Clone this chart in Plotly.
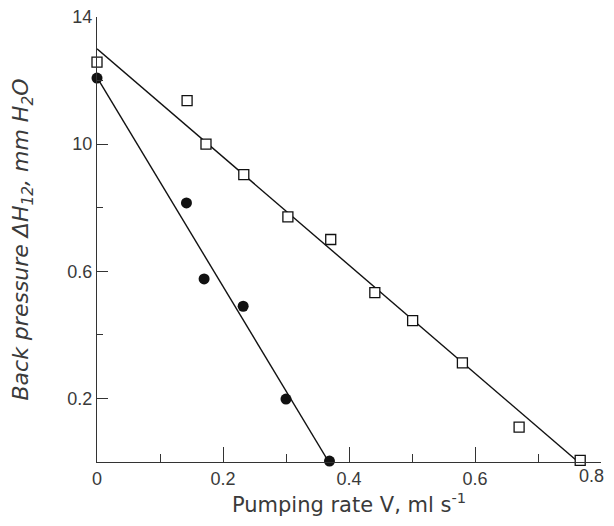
import plotly.graph_objects as go

# Open squares (series 1)
sq_x = [0.0, 0.143, 0.173, 0.233, 0.303, 0.371, 0.441, 0.501, 0.580, 0.670, 0.767]
sq_y = [1.258, 1.137, 1.000, 0.904, 0.771, 0.700, 0.533, 0.445, 0.312, 0.110, 0.005]
# Filled circles (series 2)
ci_x = [0.0, 0.142, 0.170, 0.232, 0.300, 0.369]
ci_y = [1.208, 0.815, 0.576, 0.490, 0.198, 0.003]
# Fitted lines (endpoints)
sq_fit_x = [0.0, 0.764]
sq_fit_y = [1.300, 0.0]
ci_fit_x = [0.0, 0.368]
ci_fit_y = [1.210, 0.0]

x_ticks = [0, 0.2, 0.4, 0.6, 0.8]
x_ticktext = ["0", "0.2", "0.4", "0.6", "0.8"]
y_ticks = [0.2, 0.6, 1.0, 1.4]
y_ticktext = ["0.2", "0.6", "10", "14"]

fig = go.Figure()
fig.add_trace(go.Scatter(x=sq_fit_x, y=sq_fit_y, mode="lines",
                         line=dict(color="#111", width=1.4), showlegend=False))
fig.add_trace(go.Scatter(x=ci_fit_x, y=ci_fit_y, mode="lines",
                         line=dict(color="#111", width=1.4), showlegend=False))
fig.add_trace(go.Scatter(x=sq_x, y=sq_y, mode="markers",
                         marker=dict(symbol="square", size=10, color="white",
                                     line=dict(color="#111", width=1.3)),
                         showlegend=False, cliponaxis=False))
fig.add_trace(go.Scatter(x=ci_x, y=ci_y, mode="markers",
                         marker=dict(symbol="circle", size=11, color="#111",
                                     line=dict(width=0)),
                         showlegend=False, cliponaxis=False))

tick_font = dict(family="Liberation Sans, Arial, sans-serif", size=18, color="#3a3a3a")

# last x label is drawn as an annotation, nudged left so it is not clipped
shown_x_text = x_ticktext[:-1] + [""]

# page body has an 8px default margin; keep the figure inside the window
fig.update_layout(
    width=598, height=509,
    margin=dict(l=89, r=5, t=9, b=55),
    paper_bgcolor="white", plot_bgcolor="white",
    xaxis=dict(
        range=[0, 0.8], showgrid=False, zeroline=False, automargin=False,
        showline=True, linecolor="#333", linewidth=1.3,
        ticks="inside", ticklen=15, tickwidth=1.3, tickcolor="#333",
        tickvals=x_ticks, ticktext=shown_x_text, tickfont=tick_font,
        ticklabeloverflow="allow",
        minor=dict(tickvals=[0.1, 0.3, 0.5, 0.7], ticks="inside", ticklen=8,
                   tickwidth=1.3, tickcolor="#333"),
        title=dict(text="Pumping rate V, ml s<sup>-1</sup>", standoff=6,
                   font=dict(family="DejaVu Sans, sans-serif", size=21, color="#3a3a3a")),
    ),
    yaxis=dict(
        range=[0, 1.4], showgrid=False, zeroline=False, automargin=False,
        showline=True, linecolor="#333", linewidth=1.3,
        ticks="inside", ticklen=11, tickwidth=1.3, tickcolor="#333",
        tickvals=y_ticks, ticktext=y_ticktext, tickfont=tick_font,
        ticklabeloverflow="allow",
        minor=dict(tickvals=[0.4, 0.8, 1.2], ticks="inside", ticklen=6,
                   tickwidth=1.3, tickcolor="#333"),
        title=dict(text="Back pressure ΔH<sub>12</sub>, mm H<sub>2</sub>O", standoff=40,
                   font=dict(family="DejaVu Sans, sans-serif", size=22,
                             color="#3a3a3a", style="italic")),
    ),
    annotations=[dict(
        text=x_ticktext[-1], x=x_ticks[-1], y=0, xref="x", yref="paper",
        xanchor="right", yanchor="top", xshift=5, yshift=-2,
        showarrow=False, font=tick_font,
    )],
)

fig.write_html("out.html")
